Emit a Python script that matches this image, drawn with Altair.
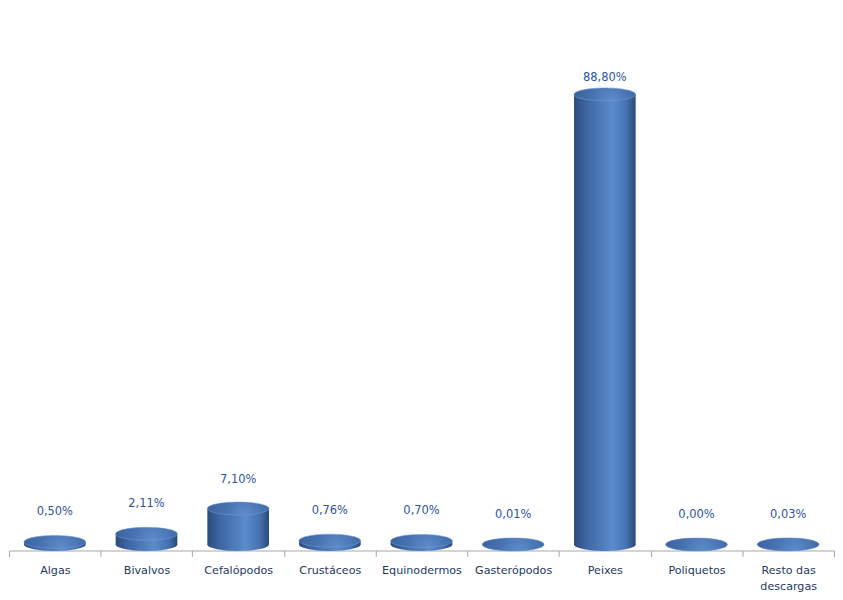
import altair as alt
import pandas as pd

categories = ["Algas", "Bivalvos", "Cefalópodos", "Crustáceos", "Equinodermos",
              "Gasterópodos", "Peixes", "Poliquetos", "Resto das descargas"]
values = [0.50, 2.11, 7.10, 0.76, 0.70, 0.01, 88.80, 0.00, 0.03]

df = pd.DataFrame({"cat": categories, "value": values})

ELLIPSE = "M -1 0 A 1 0.21 0 1 0 1 0 A 1 0.21 0 1 0 -1 0 Z"
BAR_W = 62

body_grad = alt.Gradient(
    gradient="linear", x1=0, x2=1, y1=0, y2=0,
    stops=[
        alt.GradientStop(offset=0.0, color="#2C4B7B"),
        alt.GradientStop(offset=0.2, color="#3D66A3"),
        alt.GradientStop(offset=0.62, color="#5B8BCB"),
        alt.GradientStop(offset=0.85, color="#4672B0"),
        alt.GradientStop(offset=1.0, color="#2A4877"),
    ],
)
top_grad = alt.Gradient(
    gradient="radial", x1=0.6, y1=0.6, x2=0.6, y2=0.6, r1=0, r2=0.7,
    stops=[
        alt.GradientStop(offset=0.0, color="#5E8CCB"),
        alt.GradientStop(offset=0.5, color="#4570AE"),
        alt.GradientStop(offset=1.0, color="#395E9A"),
    ],
)

xenc = alt.X(
    "cat:N", sort=categories, title=None,
    scale=alt.Scale(paddingInner=0, paddingOuter=0),
    axis=alt.Axis(
        labelAngle=0, tickBand="extent", domainColor="#A6A6A6", tickColor="#A6A6A6",
        tickSize=6, labelPadding=8, labelFont="DejaVu Sans", labelFontSize=11.2,
        labelColor="#243A60", labelLineHeight=16, labelLimit=0,
        labelExpr="datum.label == 'Resto das descargas' ? ['Resto das', 'descargas'] : datum.label",
    ),
)
yscale = alt.Scale(domain=[-1.18, 105.5], nice=False, zero=False)

base = alt.Chart(df)

bottom = base.mark_point(shape=ELLIPSE, size=BAR_W * BAR_W, filled=True, opacity=1,
                         fill=body_grad, strokeWidth=0).encode(
    x=xenc, y=alt.Y("zero:Q", scale=yscale, axis=None)
).transform_calculate(zero="0")

body = base.mark_bar(size=BAR_W, fill=body_grad).encode(
    x=xenc, y=alt.Y("value:Q", scale=yscale, axis=None), y2=alt.datum(0)
)

top = base.mark_point(shape=ELLIPSE, size=BAR_W * BAR_W, filled=True, opacity=1,
                      fill=top_grad, stroke="#6F9AD3", strokeWidth=0.6).encode(
    x=xenc, y=alt.Y("value:Q", scale=yscale, axis=None)
)

labels = base.mark_text(dy=-30, baseline="middle", font="DejaVu Sans", fontSize=11.5,
                        color="#2E54A0").encode(
    x=xenc, y=alt.Y("ly:Q", scale=yscale, axis=None), text="lbl:N"
).transform_calculate(
    lbl="replace(format(datum.value, '.2f'), '.', ',') + '%'",
    ly="datum.value * 0.97",
)

chart = alt.layer(bottom, body, top, labels).properties(
    width=830, height=544, padding=0, background="white"
).configure_view(stroke=None)

chart.save("out.html", embed_options={"renderer": "svg", "actions": False})
